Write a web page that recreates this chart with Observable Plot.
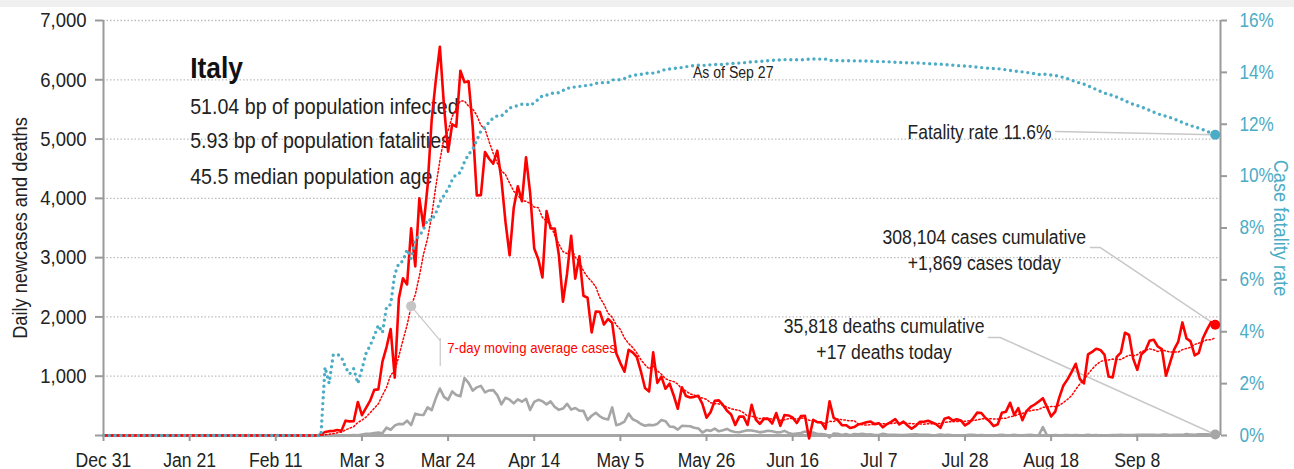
<!DOCTYPE html>
<html><head><meta charset="utf-8">
<script src="https://cdn.jsdelivr.net/npm/d3@7"></script>
<script src="https://cdn.jsdelivr.net/npm/@observablehq/plot@0.6"></script>
<style>
body{margin:0;background:#fff;}
#band{height:7px;background:#f0f0f0;}
#chart svg{display:block;}
</style></head><body><div id="band"></div><div id="chart"></div>
<script>
const FONT = "'Liberation Sans',Arial,sans-serif";
const SQUEEZE = 0.88; // condensed look of the original typeface

// ---------- data ----------
const startDate = "2019-12-31";
const endDate = "2020-09-27";
// Dec 31 – Feb 21: no cases, no deaths (53 days)
const zerosBeforeFeb22 = [0,0,0,0,0,0,0,0,0,0, 0,0,0,0,0,0,0,0,0,0, 0,0,0,0,0,0,0,0,0,0, 0,0,0,0,0,0,0,0,0,0, 0,0,0,0,0,0,0,0,0,0, 0,0,0];
// daily new cases, Feb 22 – Sep 27
const dailyCases = [
  17,59,73,77,93,78,250,238,
  240,566,342,466,587,769,778,1247,1492,1797, 977,2313,2651,2547,3497,2853,4000,3526,4207,5322, 5986,6557,5560,4789,5249,5210,6153,5959,5974,5217,4050,
  4053,4782,4668,4585,4805,4316,3599,3039,3836,4204, 3951,4694,4092,3153,2972,2667,3786,3493,3491,3047, 2256,2729,3370,2646,3021,2357,2324,1739,2091,2086,
  1872,1965,1900,1389,1221,1075,1444,1401,1327,1083, 802,744,1402,888,992,789,875,675,451,813, 665,642,652,669,531,300,397,584,593,516,416,
  355,178,318,321,177,518,270,197,280,283, 202,379,163,346,338,301,210,328,331,-50, 264,224,221,113,577,296,259,175,174,126,
  142,187,201,223,235,192,208,138,193,229, 276,188,234,169,114,162,230,233,249,219, 190,129,282,306,252,275,255,170,212,289,386,
  379,295,239,159,190,384,402,552,347,463, 259,412,481,523,574,629,479,320,403,642, 845,947,1071,1210,953,878,1367,1411,1462,1444,1365,
  996,978,1326,1397,1733,1695,1297,1108,1370,1434, 1597,1616,1501,1458,1008,1229,1452,1585,1907,1638, 1587,1350,1392,1640,1786,1912,1869
];
// daily deaths, Feb 22 – Sep 27
const dailyDeaths = [
  0,2,1,4,3,2,5,4,
  8,5,18,27,28,41,49,36,133,97, 168,196,189,250,175,368,349,345,475,427, 627,793,651,601,743,683,662,969,889,756,812,
  837,727,760,766,681,525,636,604,542,610, 570,619,431,566,602,578,525,575,482,433, 454,534,437,464,420,415,260,333,382,323,
  285,269,474,174,195,236,369,274,243,194, 165,179,172,195,262,242,153,145,99,162, 161,156,130,119,50,92,78,117,70,87,111,
  75,60,55,71,88,85,72,53,65,79, 71,53,56,78,44,26,34,43,66,47, 49,24,23,18,-31,34,30,8,24,6,
  23,21,30,15,21,7,8,30,15,12, 12,7,7,13,17,20,11,13,12,3, 7,15,9,10,5,5,5,5,11,11,3,
  9,3,2,5,6,10,3,3,12,4, 2,6,10,3,6,140,4,4,7,5, 6,9,3,7,4,4,13,5,9,1,4,
  4,6,6,10,6,7,7,10,10,10, 10,10,7,14,14,9,10,10,10,24, 14,13,20,20,20,10,17
];
const xTickDates = ["2019-12-31","2020-01-21","2020-02-11","2020-03-03","2020-03-24","2020-04-14","2020-05-05","2020-05-26","2020-06-16","2020-07-07","2020-07-28","2020-08-18","2020-09-08"];
const leftTicks = [0,1000,2000,3000,4000,5000,6000,7000];
const rateTicks = [0,2,4,6,8,10,12,14,16];
const rateMax = 16;

const titleText = "Italy";
const statTexts = ["51.04 bp of population infected","5.93 bp of population fatalities","45.5 median population age"];
const asOfText = "As of Sep 27";
const fatalityText = "Fatality rate 11.6%";
const casesNote = ["308,104 cases cumulative","+1,869 cases today"];
const deathsNote = ["35,818 deaths cumulative","+17 deaths today"];
const maNote = "7-day moving average cases";
const maMarkerDate = "2020-03-15";
const yLabelLeft = "Daily newcases and deaths";
const yLabelRight = "Case fatality rate";

// ---------- derived table ----------
const dates = d3.utcDay.range(new Date(startDate), d3.utcDay.offset(new Date(endDate), 1));
const cases = zerosBeforeFeb22.concat(dailyCases);
const deaths = zerosBeforeFeb22.concat(dailyDeaths);
const K = 7000 / rateMax;
let cumC = 0, cumD = 0;
const rows = dates.map((date, i) => {
  cumC += cases[i]; cumD += deaths[i];
  return {date, cases: cases[i], deaths: deaths[i], cfr: cumC > 0 ? 100 * cumD / cumC : 0};
});
rows.forEach((r, i) => { r.ma = d3.mean(cases.slice(Math.max(0, i - 6), i + 1)); r.cfrY = r.cfr * K; });
const last = rows[rows.length - 1];
const maPoint = rows.find(r => +r.date === +new Date(maMarkerDate));
const P = (d, v) => ({x: new Date(d), y: v});

const RED = "#ff0000", BLUE = "#4bacc6", GREY = "#a6a6a6", INK = "#222222", LEAD = "#c8c8c8";

const chart = Plot.plot({
  width: 1294, height: 462,
  marginTop: 13, marginLeft: 103, marginRight: 74, marginBottom: 34,
  x: {type: "utc", domain: [new Date(startDate), new Date("2020-09-28T07:00Z")], label: null},
  y: {domain: [0, 7000], label: null},
  style: {fontFamily: FONT, fontSize: "20px", color: INK, background: "white", overflow: "visible"},
  marks: [
    Plot.ruleY(leftTicks.filter(d => d > 0), {stroke: "#bdbdbd", strokeWidth: 1.3, strokeDasharray: "1.5,2"}),
    // annotation texts
    Plot.text([titleText], {x: new Date("2020-01-21T03:00Z"), y: 6038, text: d => d, textAnchor: "start", lineAnchor: "bottom", fontSize: 30, fontWeight: "bold", fill: "#111"}),
    Plot.text(statTexts, {x: new Date("2020-01-21T03:00Z"), y: (d, i) => [5431, 4841, 4250][i], text: d => d, textAnchor: "start", lineAnchor: "bottom", fontSize: 22.3, fill: INK}),
    Plot.text([asOfText], {x: new Date("2020-06-01T12:00Z"), y: 6022, text: d => d, textAnchor: "middle", lineAnchor: "bottom", fontSize: 16, fill: INK}),
    Plot.text([fatalityText], {x: new Date("2020-08-18T02:00Z"), y: 4993, text: d => d, textAnchor: "end", lineAnchor: "bottom", fontSize: 19.8, fill: INK}),
    Plot.text(casesNote, {x: new Date("2020-08-01T17:00Z"), y: (d, i) => [3238, 2800][i], text: d => d, textAnchor: "middle", lineAnchor: "bottom", fontSize: 20, fill: INK}),
    Plot.text(deathsNote, {x: new Date("2020-07-08T07:00Z"), y: (d, i) => [1737, 1282][i], text: d => d, textAnchor: "middle", lineAnchor: "bottom", fontSize: 20, fill: INK}),
    Plot.text([maNote], {x: new Date("2020-03-23T19:00Z"), y: 1400, text: d => d, textAnchor: "start", lineAnchor: "bottom", fontSize: 15, fill: RED}),
    // leaders
    Plot.line([P("2020-08-19T02:00Z", 5128), {x: last.date, y: last.cfrY}], {x: "x", y: "y", stroke: LEAD, strokeWidth: 1.5}),
    Plot.line([P("2020-08-27T14:00Z", 3171), P("2020-08-30T00:00Z", 3171), {x: last.date, y: last.cases}], {x: "x", y: "y", stroke: LEAD, strokeWidth: 1.5}),
    Plot.line([P("2020-08-02T17:00Z", 1653), P("2020-08-05T14:00Z", 1653), {x: last.date, y: last.deaths}], {x: "x", y: "y", stroke: LEAD, strokeWidth: 1.5}),
    Plot.line([{x: maPoint.date, y: maPoint.ma}, P("2020-03-22T02:00Z", 1602)], {x: "x", y: "y", stroke: LEAD, strokeWidth: 1.2}),
    Plot.line([P("2020-03-22T02:00Z", 1636), P("2020-03-22T02:00Z", 1181)], {x: "x", y: "y", stroke: LEAD, strokeWidth: 1.2}),
    // axis frame
    Plot.ruleY([0], {stroke: GREY, strokeWidth: 3}),
    Plot.ruleX([new Date(startDate)], {stroke: "#9a9a9a", strokeWidth: 2}),
    Plot.ruleX([new Date("2020-09-28T07:00Z")], {stroke: "#9a9a9a", strokeWidth: 2}),
    // series
    Plot.line(rows, {x: "date", y: "deaths", stroke: GREY, strokeWidth: 2.6}),
    Plot.line(rows, {x: "date", y: "cases", stroke: RED, strokeWidth: 2.6}),
    Plot.line(rows, {x: "date", y: "ma", stroke: RED, strokeWidth: 1.5, strokeDasharray: "1.5,2.2"}),
    Plot.line(rows, {x: "date", y: "cfrY", stroke: BLUE, strokeWidth: 3.4, strokeLinecap: "round", strokeDasharray: "0,5.8"}),
    // markers
    Plot.dot([maPoint], {x: "date", y: "ma", r: 5, fill: "#c4c4c4"}),
    Plot.dot([last], {x: "date", y: "cfrY", r: 5, fill: BLUE}),
    Plot.dot([last], {x: "date", y: "cases", r: 5, fill: RED}),
    Plot.dot([last], {x: "date", y: "deaths", r: 5, fill: GREY}),
    // axes
    Plot.axisY({anchor: "left", ticks: leftTicks, tickFormat: d => d === 0 ? "" : d3.format(",")(d), tickSize: 8, tickPadding: 9, stroke: "#9a9a9a", strokeWidth: 2, fill: INK, fontSize: 21, label: null}),
    Plot.axisY({anchor: "right", ticks: rateTicks.map(r => r * K), tickFormat: d => Math.round(d / K) + "%", tickSize: 6, tickPadding: 13, stroke: "#9a9a9a", strokeWidth: 2, fill: BLUE, fontSize: 19.5, label: null}),
    Plot.axisX({ticks: xTickDates.map(d => new Date(d)), tickFormat: d3.utcFormat("%b %-d"), tickSize: 6, tickPadding: 11, stroke: "#9a9a9a", strokeWidth: 2, fill: INK, fontSize: 20, label: null}),
    Plot.text([yLabelLeft], {frameAnchor: "left", dx: -83, rotate: -90, text: d => d, textAnchor: "middle", lineAnchor: "middle", fontSize: 20.7, fill: INK}),
    Plot.text([yLabelRight], {frameAnchor: "right", dx: 60, rotate: 90, text: d => d, textAnchor: "middle", lineAnchor: "middle", fontSize: 20.7, fill: BLUE})
  ]
});
document.getElementById("chart").appendChild(chart);
// condense every text horizontally (the original typeface is a condensed one)
chart.querySelectorAll("text").forEach(el => {
  try {
    const w = el.getComputedTextLength();
    if (w > 0) {
      el.setAttribute("textLength", (w * SQUEEZE).toFixed(2));
      el.setAttribute("lengthAdjust", "spacingAndGlyphs");
    }
  } catch (e) {}
});
</script></body></html>
